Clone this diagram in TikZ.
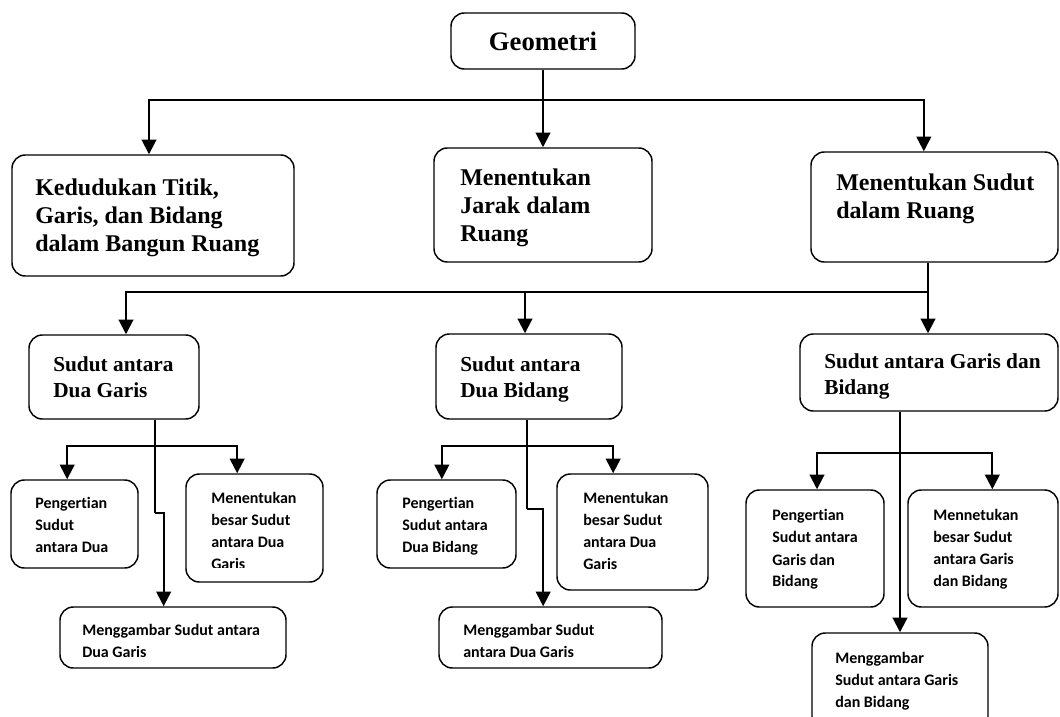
\documentclass[tikz,border=0pt]{standalone}
\usepackage{fontspec}
\setmainfont{Liberation Serif}
\newfontfamily\calibri[Ligatures=NoCommon]{Carlito}
\usetikzlibrary{positioning, arrows.meta, calc}

\begin{document}
\begin{tikzpicture}[
    x=0.75pt, y=-0.75pt,
    box/.style={draw, rounded corners=10pt, line width=1.1pt, inner sep=0pt},
    lbl/.style={anchor=north west, align=left, inner sep=0pt},
    lvlone/.style={lbl, font=\bfseries\fontsize{18}{21}\selectfont},
    lvltwo/.style={lbl, font=\bfseries\fontsize{16}{19.5}\selectfont},
    lvlthree/.style={lbl, font=\calibri\bfseries\fontsize{12}{16.5}\selectfont},
    line/.style={line width=1.5pt},
    arrow/.style={-{Triangle[width=11pt,length=11pt]}, line width=1.5pt}]

  \useasboundingbox (0,0) rectangle (1060,717);
  \clip (0,0) rectangle (1060,717);

  % root
  \node[box, minimum width=138pt, minimum height=42pt,
        font=\bfseries\fontsize{20}{24}\selectfont] (geo) at (543,41) {Geometri};

  % first level
  \node[box, minimum width=211.5pt, minimum height=90.75pt] (kd) at (153,215.5) {};
  \node[box, minimum width=163.5pt, minimum height=85.5pt]  (mj) at (543,205) {};
  \node[box, minimum width=185.25pt, minimum height=82.5pt] (ms) at (934.5,207) {};
  \node[lvlone] (kdtxt) at (35,179) {Kedudukan Titik,\\Garis, dan Bidang\\dalam Bangun Ruang};
  \node[lvlone] (mjtxt) at (460,169) {Menentukan\\Jarak dalam\\Ruang};
  \node[lvlone] (mstxt) at (836,174) {Menentukan Sudut\\dalam Ruang};

  % second level
  \node[box, minimum width=127.5pt, minimum height=63pt]    (sdg) at (114,377) {};
  \node[box, minimum width=139.5pt, minimum height=63.75pt] (sdb) at (529,376.5) {};
  \node[box, minimum width=193.5pt, minimum height=57.75pt] (sgb) at (929,372.5) {};
  \node[lvltwo] (sdgtxt) at (53,356.5) {Sudut antara\\Dua Garis};
  \node[lvltwo] (sdbtxt) at (460,356.5) {Sudut antara\\Dua Bidang};
  \node[lvltwo] (sgbtxt) at (824,353.5) {Sudut antara Garis dan\\Bidang};

  % third level
  \node[box, minimum width=95.25pt, minimum height=66pt]    (pa) at (74.5,524) {};
  \node[box, minimum width=102.75pt, minimum height=81pt]   (ma) at (254.5,528) {};
  \node[box, minimum width=169.5pt, minimum height=45.75pt] (ga) at (173,637.5) {};
  \node[box, minimum width=104.25pt, minimum height=66pt]   (pb) at (446.5,524) {};
  \node[box, minimum width=113.25pt, minimum height=87pt]   (mb) at (632.5,532) {};
  \node[box, minimum width=167.25pt, minimum height=45.75pt] (gb) at (550.5,637.5) {};
  \node[box, minimum width=103.5pt, minimum height=87.75pt] (pc) at (815,548.5) {};
  \node[box, minimum width=112.5pt, minimum height=87.75pt] (mc) at (983,548.5) {};
  \node[box, minimum width=132pt, minimum height=72.75pt]   (gc) at (900,681.5) {};

  \node[lvlthree] (patxt) at (35,497.5) {Pengertian\\Sudut\\antara Dua};
  \begin{scope}
    \clip (186,474) rectangle (323,567);
    \node[lvlthree] (matxt) at (211,492) {Menentukan\\besar Sudut\\antara Dua\\Garis};
  \end{scope}
  \node[lvlthree] (gatxt) at (82,624) {Menggambar Sudut antara\\Dua Garis};
  \node[lvlthree] (pbtxt) at (402,497.5) {Pengertian\\Sudut antara\\Dua Bidang};
  \node[lvlthree] (mbtxt) at (583,492) {Menentukan\\besar Sudut\\antara Dua\\Garis};
  \node[lvlthree] (gbtxt) at (463,624) {Menggambar Sudut\\antara Dua Garis};
  \node[lvlthree] (pctxt) at (772,509.5) {Pengertian\\Sudut antara\\Garis dan\\Bidang};
  \node[lvlthree] (mctxt) at (933,509) {Mennetukan\\besar Sudut\\antara Garis\\dan Bidang};
  \node[lvlthree] (gctxt) at (835,652) {Menggambar\\Sudut antara Garis\\dan Bidang};

  % junctions
  \coordinate (hubA) at (543,100);
  \coordinate (hubB) at (928,292);
  \coordinate (jogA) at (155,513);
  \coordinate (jogB) at (527,509);
  \coordinate (forkA) at (155,446);
  \coordinate (forkB) at (527,446);
  \coordinate (forkC) at (900,453);

  % root -> first level
  \draw[line] (geo.south) -- (hubA);
  \draw[arrow] (hubA) -| ([xshift=-3pt]kd.north);
  \draw[arrow] (hubA) -- (mj.north);
  \draw[arrow] (hubA) -| ([xshift=-8pt]ms.north);

  % first level -> second level
  \draw[line] (ms.south -| hubB) -- (hubB);
  \draw[arrow] (hubB) -| ([xshift=9pt]sdg.north);
  \draw[arrow] (hubB) -| ([xshift=-3pt]sdb.north);
  \draw[arrow] (hubB) -- (hubB |- sgb.north);

  % second level -> third level
  \draw[line] (sdg.south -| jogA) -- (jogA);
  \draw[arrow] (jogA) -| ([xshift=-7pt]ga.north);
  \draw[arrow] (forkA) -| ([xshift=-5.5pt]pa.north);
  \draw[arrow] (forkA) -| ([xshift=-13pt]ma.north);

  \draw[line] (sdb.south -| jogB) -- (jogB);
  \draw[arrow] (jogB) -| ([xshift=-5.5pt]gb.north);
  \draw[arrow] (forkB) -| ([xshift=-3.5pt]pb.north);
  \draw[arrow] (forkB) -| ([xshift=-14.5pt]mb.north);

  \draw[arrow] (sgb.south -| gc.north) -- (gc.north);
  \draw[arrow] (forkC) -| ([xshift=1.5pt]pc.north);
  \draw[arrow] (forkC) -| ([xshift=7pt]mc.north);
\end{tikzpicture}
\end{document}
